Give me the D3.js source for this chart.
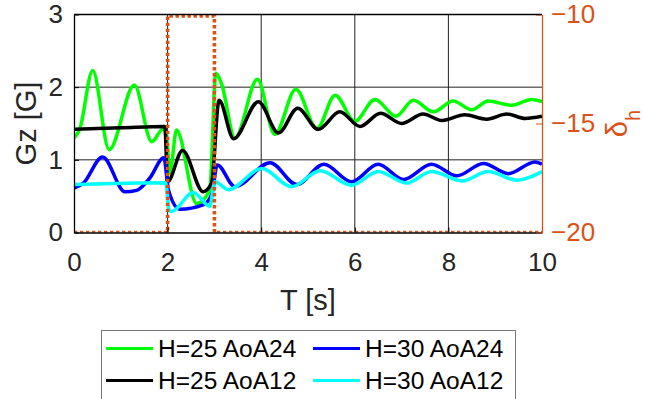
<!DOCTYPE html>
<html>
<head>
<meta charset="utf-8">
<script src="https://cdn.jsdelivr.net/npm/d3@7"></script>
<style>
  body { margin: 0; background: #fff; }
  svg { display: block; font-family: "Liberation Sans", Arial, sans-serif; }
</style>
</head>
<body>
<div id="chart"></div>
<script>
// data: [t, value]
const h25aoa24 = [[0,1.30],[0.12,1.42],[0.40,2.23],[0.75,1.14],[1.29,2.03],[1.66,1.25],[1.90,1.42],[1.97,1.36],[2.05,0.82],[2.19,1.41],[2.62,0.40],[2.90,0.58],[3.03,2.19],[3.15,2.05],[3.44,1.30],[3.92,2.11],[4.29,1.35],[4.74,1.97],[5.19,1.43],[5.58,1.89],[6.0,1.53],[6.43,1.83],[6.88,1.60],[7.25,1.82],[7.68,1.66],[8.10,1.81],[8.5,1.69],[8.85,1.81],[9.35,1.75],[9.78,1.83],[10,1.80]];
const h25aoa12 = [[0,1.42],[1.0,1.44],[1.94,1.46],[2.0,0.70],[2.32,1.13],[2.76,0.56],[2.94,0.68],[3.10,1.82],[3.41,1.29],[3.94,1.80],[4.37,1.37],[4.78,1.71],[5.22,1.42],[5.68,1.66],[6.11,1.46],[6.55,1.64],[7.0,1.50],[7.46,1.63],[7.86,1.54],[8.35,1.62],[8.82,1.56],[9.25,1.63],[9.64,1.57],[10,1.60]];
const h30aoa24 = [[0,0.61],[0.2,0.68],[0.61,1.04],[1.09,0.56],[1.34,0.58],[1.62,0.75],[1.92,1.03],[2.02,0.58],[2.26,0.32],[2.76,0.38],[2.95,0.54],[3.06,0.93],[3.44,0.63],[4.19,0.96],[4.76,0.66],[5.34,0.94],[5.93,0.70],[6.50,0.94],[7.04,0.73],[7.64,0.94],[8.18,0.78],[8.75,0.95],[9.28,0.81],[9.85,0.97],[10,0.94]];
const h30aoa12 = [[0,0.66],[1.96,0.685],[2.03,0.31],[2.08,0.29],[2.55,0.55],[2.9,0.36],[3.01,0.70],[3.30,0.59],[4.01,0.88],[4.65,0.63],[5.26,0.85],[5.93,0.65],[6.50,0.84],[7.11,0.68],[7.64,0.84],[8.29,0.71],[8.85,0.84],[9.46,0.72],[10,0.84]];
const deltaH = [[0,-20],[2,-20],[2,-10],[3,-10],[3,-20],[10,-20]];

const seriesNames = ['H=25 AoA24', 'H=25 AoA12', 'H=30 AoA24', 'H=30 AoA12'];
const seriesColors = ['#00ff00', '#000000', '#0000ff', '#00ffff'];
const xTicks = [0, 2, 4, 6, 8, 10];
const yTicks = [0, 1, 2, 3];
const y2Ticks = [-20, -15, -10];

const width = 645, height = 399;
const margin = { top: 14.5, right: 103, bottom: 166.5, left: 74 };
const orange = '#D95319';
const textCol = '#262626';

const svg = d3.select('#chart').append('svg')
    .attr('width', width)
    .attr('height', height);

const x = d3.scaleLinear().domain([0, 10]).range([margin.left, width - margin.right]);
const y = d3.scaleLinear().domain([0, 3]).range([height - margin.bottom, margin.top]);
const y2 = d3.scaleLinear().domain([-20, -10]).range([height - margin.bottom, margin.top + 1.5]);

svg.append('clipPath').attr('id', 'plot-clip')
    .append('rect')
    .attr('x', x(0)).attr('y', y(3))
    .attr('width', x(10) - x(0)).attr('height', y(0) - y(3));

// grid
const grid = svg.append('g').attr('class', 'grid');
grid.selectAll('.vx').data(xTicks.slice(1, -1)).join('line')
    .attr('x1', d => x(d)).attr('x2', d => x(d))
    .attr('y1', y(3)).attr('y2', y(0))
    .attr('stroke', '#222').attr('stroke-width', 1);
grid.selectAll('.hy').data(yTicks.slice(1, -1)).join('line')
    .attr('y1', d => y(d)).attr('y2', d => y(d))
    .attr('x1', x(0)).attr('x2', x(10))
    .attr('stroke', '#222').attr('stroke-width', 1);

// curves
const line = d3.line()
    .x(d => x(d[0]))
    .y(d => y(d[1]))
    .curve(d3.curveMonotoneX);

const allSeries = [h25aoa24, h25aoa12, h30aoa24, h30aoa12];
svg.append('g').attr('clip-path', 'url(#plot-clip)')
    .selectAll('path').data(allSeries).join('path')
    .attr('d', line)
    .attr('fill', 'none')
    .attr('stroke', (d, i) => seriesColors[i])
    .attr('stroke-width', 3.5)
    .attr('stroke-linejoin', 'round');

// delta h on the right axis
const line2 = d3.line().x(d => x(d[0])).y(d => y2(d[1]));
svg.append('path')
    .datum(deltaH)
    .attr('clip-path', 'url(#plot-clip)')
    .attr('d', line2)
    .attr('fill', 'none')
    .attr('stroke', orange)
    .attr('stroke-width', 3.6)
    .attr('stroke-dasharray', '3.4,2.6');

// axes
const xAxis = d3.axisBottom(x).tickValues(xTicks).tickSizeInner(-5).tickSizeOuter(0).tickPadding(20);
const yAxis = d3.axisLeft(y).tickValues(yTicks).tickFormat(d3.format('d')).tickSizeInner(-5).tickSizeOuter(0).tickPadding(11);
const y2Axis = d3.axisRight(y2.copy().range([height - margin.bottom, margin.top])).tickValues(y2Ticks).tickSizeInner(-6).tickSizeOuter(0).tickPadding(9);

const xAxisG = svg.append('g')
    .attr('transform', `translate(0,${y(0)})`)
    .call(xAxis);
const yAxisG = svg.append('g')
    .attr('transform', `translate(${x(0)},0)`)
    .call(yAxis);
const y2AxisG = svg.append('g')
    .attr('transform', `translate(${x(10)},0)`)
    .call(y2Axis);

[xAxisG, yAxisG].forEach(g => {
    g.selectAll('path').attr('stroke', '#000').attr('stroke-width', 1.3);
    g.selectAll('line').attr('stroke', '#000');
    g.selectAll('text').attr('fill', textCol).style('font-size', '26px');
});
y2AxisG.selectAll('path').attr('stroke', orange).attr('stroke-width', 1.3);
y2AxisG.selectAll('line').attr('stroke', orange);
y2AxisG.selectAll('text').attr('fill', orange).style('font-size', '26px');

// top box line
svg.append('line')
    .attr('x1', x(0)).attr('x2', x(10))
    .attr('y1', y(3)).attr('y2', y(3))
    .attr('stroke', '#000').attr('stroke-width', 1.3);

// axis labels
svg.append('text')
    .attr('x', (x(0) + x(10)) / 2)
    .attr('y', 310)
    .attr('text-anchor', 'middle')
    .attr('fill', textCol)
    .style('font-size', '29px')
    .text('T [s]');

svg.append('text')
    .attr('transform', `translate(36,${(y(0) + y(3)) / 2}) rotate(-90)`)
    .attr('text-anchor', 'middle')
    .attr('fill', textCol)
    .style('font-size', '29px')
    .text('Gz [G]');

const dl = svg.append('text')
    .attr('transform', `translate(627,${(y(0) + y(3)) / 2}) rotate(-90)`)
    .attr('text-anchor', 'middle')
    .attr('fill', orange)
    .style('font-size', '29px');
dl.append('tspan').text('δ');
dl.append('tspan').attr('dy', 13).style('font-size', '20px').text('h');

// legend
const legend = svg.append('g');
legend.append('rect')
    .attr('x', 101.5).attr('y', 330.5)
    .attr('width', 414).attr('height', 80)
    .attr('fill', '#fff')
    .attr('stroke', '#777').attr('stroke-width', 1);

const legX = [106, 313], legY = [348.5, 380.5];
seriesNames.forEach((name, i) => {
    const col = Math.floor(i / 2), row = i % 2;
    legend.append('line')
        .attr('x1', legX[col]).attr('x2', legX[col] + 47)
        .attr('y1', legY[row]).attr('y2', legY[row])
        .attr('stroke', seriesColors[i]).attr('stroke-width', 3.2);
    legend.append('text')
        .attr('x', legX[col] + 52)
        .attr('y', legY[row])
        .attr('dy', '0.35em')
        .attr('fill', '#000')
        .style('font-size', '24.5px')
        .text(name);
});
</script>
</body>
</html>
